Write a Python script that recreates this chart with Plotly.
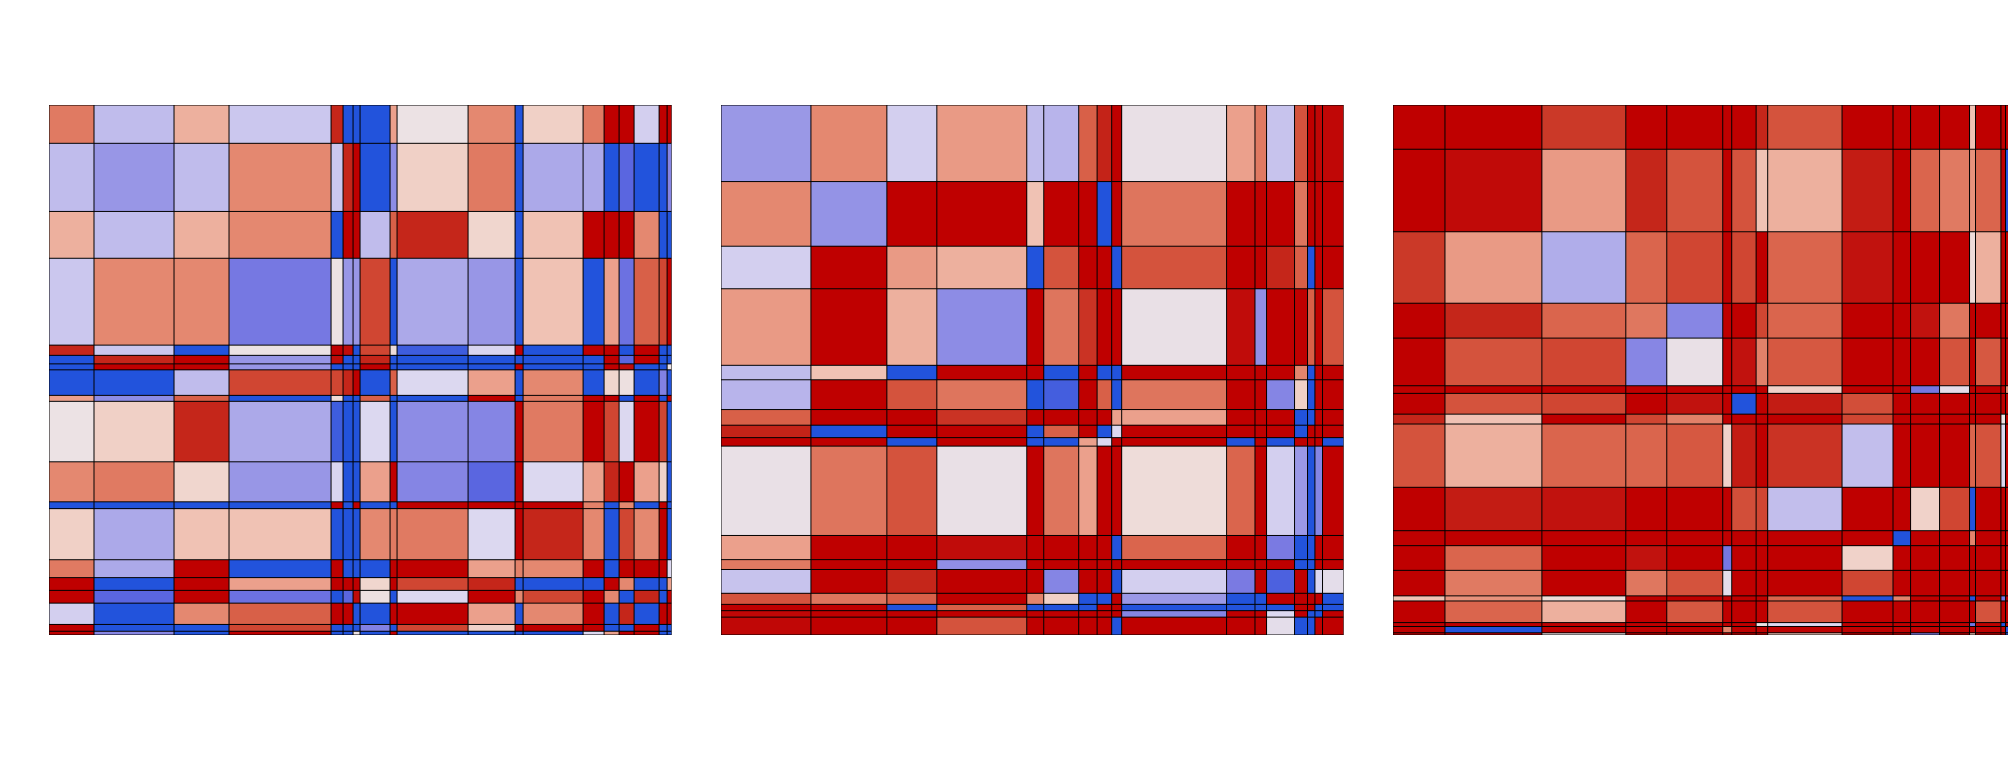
import plotly.graph_objects as go

# ---------------- data ----------------
# Each panel: category weights (cell sizes, same for rows and columns)
# and the upper triangle of a symmetric value matrix (row i holds columns i..n-1)

p1_weights = [45, 80, 55, 102, 12, 10, 7, 30, 7, 71, 47, 8, 60, 21, 15, 15, 25, 8, 4.4]
p1_upper = [
    [0.55, -0.26, 0.27, -0.2, 0.87, -1, -1, -1, 0.33, 0, 0.45, -1, 0.13, 0.55, 1, 1, -0.15, 1, 1],
    [-0.46, -0.26, 0.45, -0.2, 0.87, 1, -1, -0.52, 0.13, 0.55, -1, -0.36, -0.36, -1, -0.8, -1, -1, -0.55],
    [0.27, 0.45, -1, 1, 1, -0.26, 0.65, 0.87, 0.1, -1, 0.2, 1, 1, 1, 0.45, -1, -1],
    [-0.64, 0, -0.46, -0.46, 0.75, -1, -0.36, -0.46, -1, 0.2, -1, 0.33, -0.7, 0.65, 0.75, 1],
    [1, 0.95, -1, 0.75, 0.05, -0.9, -0.12, 1, -1, 1, 1, -1, 1, -1, -1],
    [-1, -1, 0.87, -1, -1, -1, -1, -1, -1, 1, -0.8, 1, -1, -1],
    [-1, 1, -1, -1, -1, 1, -1, -1, 1, 0.95, -1, -1, 0],
    [-1, 0.65, -0.1, 0.33, -1, 0.45, -1, 0.1, 0.02, -1, -0.58, -1],
    [-1, -1, 1, -1, 0.55, 1, 1, -1, 1, -1, 1],
    [-0.52, -0.56, 1, 0.55, 1, 0.75, -0.1, 1, 0.75, -1],
    [-0.8, 1, -0.1, 0.33, 0.87, 1, 0.33, 0.12, -1],
    [1, 1, 0.5, -1, 0.45, -1, 1, -1],
    [0.87, 0.45, -1, 0.75, 0.45, 1, -1],
    [1, -1, 1, 1, 1, -0.1],
    [1, 0.45, -1, -1, 0.33],
    [-1, 0.87, -1, 1],
    [-1, 1, 1],
    [-1, -1],
    [-1],
]

p2_weights = [90, 76, 50, 90, 17, 35, 18.4, 14.6, 10, 105, 28.4, 11.6, 28, 13, 7.4, 7.6, 21]
p2_upper = [
    [-0.45, 0.45, -0.15, 0.36, -0.26, -0.3, 0.65, 0.88, 1, -0.02, 0.33, 0.55, -0.22, 0.7, 1, 0.97, 0.97],
    [-0.48, 1, 1, 0.2, 1, 1, -1, 1, 0.57, 1, 1, 1, 0.57, 1, 1, 1],
    [0.36, 0.27, -1, 0.7, 1, 1, -1, 0.7, 1, 1, 0.87, 0.65, -1, 1, 1],
    [-0.52, 1, 0.57, 0.82, 1, 1, -0.02, 0.95, -0.5, 1, 1, 0.65, 1, 0.7],
    [1, -1, 1, -1, -1, 1, 1, 1, 1, 0.47, -1, 1, 1],
    [-0.88, 1, 0.65, -1, 0.57, 1, 1, -0.56, 0.13, -1, 1, 1],
    [1, 1, 0.33, 0.33, 1, 1, 1, -1, -1, 1, 1],
    [-1, -0.1, 1, 1, 1, 1, -1, 1, 1, 1],
    [1, 1, -1, 1, -1, 1, 1, 1, -1],
    [0.05, 0.63, 1, -0.15, -0.45, -1, -0.56, 1],
    [1, 1, -0.62, -1, -1, 1, 1],
    [1, 1, -1, -1, 1, 1],
    [-0.85, 1, -1, -0.1, -0.05],
    [1, 1, 1, -1],
    [1, -1, -1],
    [-1, 1],
    [1],
]

p3_weights = [52, 97, 84, 41, 56, 9, 24.4, 11.6, 74.4, 51, 17.6, 29, 30, 6, 25.4, 4.6, 7.4, 2.6]
p3_upper = [
    [1, 1, 0.8, 1, 1, 1, 1, 0.87, 0.7, 1, 1, 1, 1, 0.2, 1, 1, 1, 1],
    [0.96, 0.36, 0.87, 0.7, 1, 0.7, 0.2, 0.27, 0.9, 1, 0.63, 0.55, 0.4, 0.63, 1, -1, 1],
    [-0.34, 0.63, 0.75, 1, 0.75, 1, 0.63, 0.93, 1, 1, 1, 0.05, 0.27, 1, 1, 0],
    [0.56, -0.55, 1, 1, 0.75, 0.63, 1, 1, 0.93, 0.56, 1, 1, 1, 1, 1],
    [-0.02, 1, 0.93, 0.5, 0.68, 1, 1, 1, 0.7, 1, 0.68, 1, 1, 1],
    [1, 1, 1, 0.12, 1, 1, -0.65, -0.05, 1, 1, 1, 0.48, 1],
    [-1, 1, 0.9, 0.72, 1, 1, 1, 1, 1, 1, 1, 1],
    [1, 1, 0.75, 1, 1, 1, 1, 1, 0.0, 1, 1],
    [0.82, -0.25, 1, 1, 1, 0.63, 0.7, -0.1, 1, 0.2],
    [1, 1, 0.12, 0.75, -1, 1, 1, 1, 1],
    [-1, 1, 1, 0.48, 1, 1, 1, 1],
    [1, 1, 1, 1, 1, 1, -0.6],
    [1, 1, 1, 1, 1, 1],
    [-1, 1, -0.65, 1, 0.2],
    [0.7, 1, 1, 1],
    [-1, 1, 1],
    [-1, -1],
    [1],
]

# diverging colour scale (value -1 .. 1)
scale_values = [-1, -0.8, -0.62, -0.46, -0.26, -0.1, 0, 0.1, 0.2, 0.33, 0.45, 0.55, 0.65, 0.75, 0.87, 0.95, 1]
scale_colors = ['#2253dc', '#5a66e0', '#7a7ae2', '#9896e6', '#c0bcec', '#dcd8f0', '#ece2e4',
                '#f0d6ce', '#f0c2b4', '#eba08c', '#e48870', '#e07a62', '#d86048', '#d04632',
                '#c5261a', '#c00c0a', '#bf0000']
colorscale = [[(v + 1) / 2, c] for v, c in zip(scale_values, scale_colors)]


def full_matrix(upper):
    n = len(upper)
    m = [[0.0] * n for _ in range(n)]
    for i, row in enumerate(upper):
        for k, v in enumerate(row):
            j = i + k
            m[i][j] = v
            m[j][i] = v
    return m


def edges(w):
    e = [0.0]
    for v in w:
        e.append(e[-1] + v)
    return e


# ---------------- layout geometry ----------------
W, H = 2016, 768
ML, MR, MT, MB = 41, 0, 97, 141
plot_w = W - ML - MR
panel_px = 622.5
gap_px = 49.5

fig = go.Figure()
panels = [(p1_weights, p1_upper), (p2_weights, p2_upper), (p3_weights, p3_upper)]
layout_axes = {}
for idx, (w, u) in enumerate(panels):
    sfx = '' if idx == 0 else str(idx + 1)
    e = edges(w)
    z = full_matrix(u)
    fig.add_trace(go.Heatmap(
        z=z, x=e, y=e, colorscale=colorscale, zmin=-1, zmax=1,
        showscale=False, hoverinfo='skip', xaxis='x' + sfx, yaxis='y' + sfx))
    lx, ly = [], []
    for v in e:
        lx += [v, v, None]
        ly += [0, e[-1], None]
        lx += [0, e[-1], None]
        ly += [v, v, None]
    fig.add_trace(go.Scatter(
        x=lx, y=ly, mode='lines', line=dict(color='black', width=1),
        hoverinfo='skip', showlegend=False, cliponaxis=False,
        xaxis='x' + sfx, yaxis='y' + sfx))
    x0 = idx * (panel_px + gap_px)
    d0 = x0 / plot_w
    d1 = min(1.0, (x0 + panel_px) / plot_w)
    layout_axes['xaxis' + sfx] = dict(domain=[d0, d1], range=[0, e[-1]], visible=False,
                                      showgrid=False, zeroline=False, anchor='y' + sfx)
    layout_axes['yaxis' + sfx] = dict(domain=[0, 1], range=[e[-1], 0], visible=False,
                                      showgrid=False, zeroline=False, anchor='x' + sfx)

fig.update_layout(
    width=W, height=H,
    margin=dict(l=ML, r=MR, t=MT, b=MB),
    paper_bgcolor='white', plot_bgcolor='white',
    showlegend=False,
    **layout_axes,
)

fig.write_html("out.html")
